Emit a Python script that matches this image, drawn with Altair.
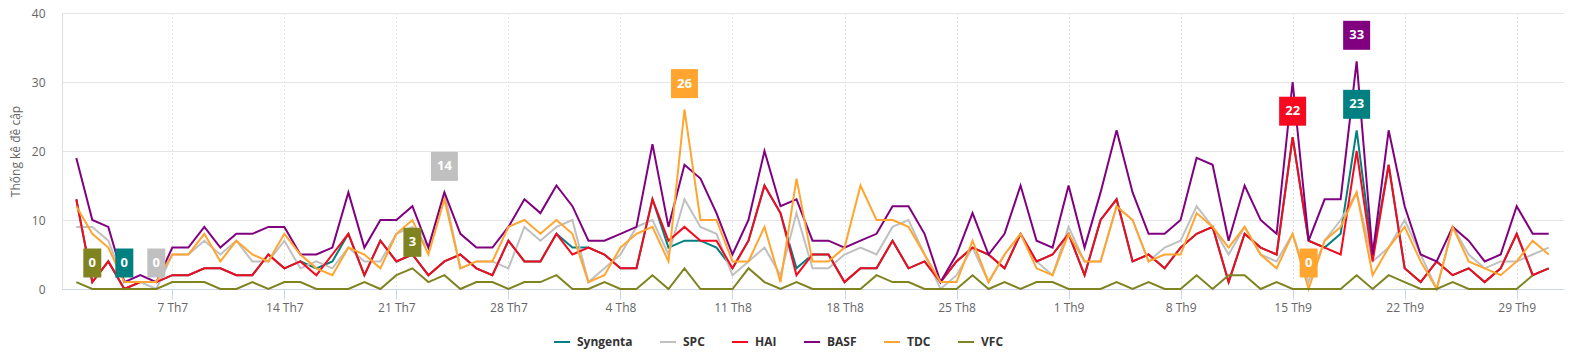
import altair as alt
import pandas as pd

# ---------------- data ----------------
start_date = "2025-07-01"
n_days = 93
series_names = ["Syngenta", "SPC", "HAI", "BASF", "TDC", "VFC"]
series_colors = ["#008080", "#c0c0c0", "#f50a1f", "#800080", "#ffa530", "#7f8420"]

hai = [13, 1, 4, 0, 1, 1, 2, 2, 3, 3, 2, 2, 5, 3, 4, 2, 5, 8, 2, 7, 4,
       5, 2, 4, 5, 3, 2, 7, 4, 4, 8, 5, 6, 5, 3, 3, 13, 7, 9, 7, 7, 3, 7, 15, 11,
       2, 5, 5, 1, 3, 3, 7, 3, 4, 1, 4, 6, 5, 3, 8, 4, 5, 8, 2, 10, 13, 4, 5,
       3, 6, 8, 9, 1, 8, 6, 5, 22, 7, 6, 5, 20, 4, 18, 3, 1, 4, 2, 3, 1, 3, 8, 2, 3]

syngenta = [13, 1, 4, 0, 1, 1, 2, 2, 3, 3, 2, 2, 5, 3, 4, 3, 4, 8, 2, 7, 4,
            5, 2, 4, 5, 3, 2, 7, 4, 4, 8, 6, 6, 5, 3, 3, 13, 6, 7, 7, 6, 3, 7, 15, 11,
            3, 5, 5, 1, 3, 3, 7, 3, 4, 1, 4, 6, 5, 3, 8, 4, 5, 8, 2, 10, 13, 4, 5,
            3, 6, 8, 9, 1, 8, 6, 5, 22, 7, 6, 8, 23, 5, 18, 3, 1, 4, 2, 3, 1, 3, 8, 2, 3]

basf = [19, 10, 9, 1, 2, 1, 6, 6, 9, 6, 8, 8, 9, 9, 5, 5, 6, 14, 6, 10, 10,
        12, 6, 14, 8, 6, 6, 9, 13, 11, 15, 12, 7, 7, 8, 9, 21, 9, 18, 16, 11, 5, 10, 20, 12,
        13, 7, 7, 6, 7, 8, 12, 12, 8, 1, 5, 11, 5, 8, 15, 7, 6, 15, 6, 14, 23, 14, 8,
        8, 10, 19, 18, 7, 15, 10, 8, 30, 7, 13, 13, 33, 5, 23, 12, 5, 4, 9, 7, 4, 5, 12, 8, 8]

tdc = [12, 8, 6, 1, 1, 1, 5, 5, 8, 4, 7, 5, 4, 8, 5, 3, 2, 6, 5, 3, 8,
       10, 5, 13, 3, 4, 4, 9, 10, 8, 10, 8, 1, 2, 6, 8, 9, 4, 26, 10, 10, 4, 4, 9, 1,
       16, 4, 4, 6, 15, 10, 10, 9, 5, 1, 1, 7, 1, 5, 8, 3, 2, 8, 4, 4, 12, 10, 4,
       5, 5, 11, 9, 6, 9, 5, 3, 8, 0, 7, 9, 14, 2, 6, 9, 4, 0, 9, 4, 3, 2, 4, 7, 5]

spc = [9, 9, 7, 1, 1, 0, 5, 5, 7, 5, 7, 4, 4, 7, 3, 4, 3, 6, 4, 4, 8,
       9, 6, 14, 3, 4, 4, 3, 9, 7, 9, 10, 1, 3, 5, 9, 10, 5, 13, 9, 8, 2, 4, 6, 2,
       11, 3, 3, 5, 6, 5, 9, 10, 5, 0, 2, 6, 1, 5, 8, 4, 2, 9, 4, 4, 12, 10, 4,
       6, 7, 12, 9, 5, 9, 5, 4, 8, 1, 7, 10, 14, 4, 6, 10, 5, 0, 9, 5, 3, 4, 4, 5, 6]

vfc = [1, 0, 0, 0, 0, 0, 1, 1, 1, 0, 0, 1, 0, 1, 1, 0, 0, 0, 1, 0, 2,
       3, 1, 2, 0, 1, 1, 0, 1, 1, 2, 0, 0, 1, 0, 0, 2, 0, 3, 0, 0, 0, 3, 1, 0,
       1, 0, 0, 0, 0, 2, 1, 1, 0, 0, 0, 2, 0, 1, 0, 1, 1, 0, 0, 0, 1, 0, 1,
       0, 0, 2, 0, 2, 2, 0, 1, 0, 0, 0, 0, 2, 0, 2, 1, 0, 0, 1, 0, 0, 0, 0, 2, None]

tick_dates = ["2025-07-07", "2025-07-14", "2025-07-21", "2025-07-28", "2025-08-04",
              "2025-08-11", "2025-08-18", "2025-08-25", "2025-09-01", "2025-09-08",
              "2025-09-15", "2025-09-22", "2025-09-29"]

# labelled extremes shown on the chart: (series, "max"/"min")
label_specs = [("VFC", "min"), ("Syngenta", "min"), ("SPC", "min"), ("SPC", "max"),
               ("VFC", "max"), ("TDC", "max"), ("HAI", "max"), ("BASF", "max"),
               ("Syngenta", "max"), ("TDC", "min")]

# ---------------- build tables ----------------
values = {"Syngenta": syngenta, "SPC": spc, "HAI": hai, "BASF": basf, "TDC": tdc, "VFC": vfc}
color_of = dict(zip(series_names, series_colors))
dates = pd.date_range(start_date, periods=n_days, freq="D", tz="UTC")
ts = [int(d.timestamp() * 1000) for d in dates]

rows = []
for s in series_names:
    for t, v in zip(ts, values[s]):
        if v is not None:
            rows.append({"t": t, "series": s, "value": v})
df = pd.DataFrame(rows)

lab_rows = []
for s, kind in label_specs:
    sub = df[df.series == s].reset_index(drop=True)
    idx = sub["value"].idxmax() if kind == "max" else sub["value"].idxmin()
    r = sub.loc[idx]
    lab_rows.append({"t": int(r.t), "value": int(r.value), "series": s,
                     "text": str(int(r.value)), "color": color_of[s]})
labels = pd.DataFrame(lab_rows)

DAY = 86400000
tick_ts = [int(pd.Timestamp(d, tz="UTC").timestamp() * 1000) for d in tick_dates]
x_domain = [tick_ts[0] - 6.894 * DAY, tick_ts[-1] + 2.956 * DAY]

FONT = "Open Sans"
x_enc = alt.X("t:T",
              scale=alt.Scale(type="utc", domain=x_domain, nice=False),
              axis=alt.Axis(values=tick_ts,
                            labelExpr="utcdate(datum.value) + ' Th' + (utcmonth(datum.value) + 1)",
                            title=None, grid=True, gridDash=[1, 3], gridColor="#c8c8c8",
                            domainColor="#ccd6eb", tickColor="#ccd6eb", tickSize=10,
                            labelPadding=3, labelFontSize=12, labelColor="#666666",
                            labelFont=FONT, labelFlush=False))
y_enc = alt.Y("value:Q",
              scale=alt.Scale(domain=[0, 40], nice=False, zero=True),
              axis=alt.Axis(values=[0, 10, 20, 30, 40], title="Thống kê đề cập",
                            grid=True, gridColor="#e6e6e6", domain=False, ticks=False,
                            labelPadding=17, labelFontSize=12, labelColor="#666666",
                            labelFont=FONT, titleFont=FONT, titleFontSize=12,
                            titleFontWeight="normal", titleColor="#666666",
                            titlePadding=9))
color_enc = alt.Color("series:N",
                      scale=alt.Scale(domain=series_names, range=series_colors),
                      legend=alt.Legend(title=None, orient="none", legendX=491, legendY=320,
                                        direction="horizontal", symbolType="stroke",
                                        symbolStrokeWidth=2, symbolSize=256,
                                        labelFont=FONT, labelFontWeight="bold",
                                        labelFontSize=12, labelColor="#333333",
                                        columnPadding=23, labelOffset=6))

layers = []
for s in series_names:
    layers.append(
        alt.Chart(df).transform_filter(alt.datum.series == s)
        .mark_line(strokeWidth=2, interpolate="linear")
        .encode(x=x_enc, y=y_enc, color=color_enc)
    )

for n_chars, w in [(1, 18), (2, 27)]:
    layers.append(
        alt.Chart(labels).transform_filter(f"length(datum.text) == {n_chars}")
        .mark_rect(width=w, height=29, yOffset=-26)
        .encode(x=x_enc, y=y_enc, fill=alt.Fill("color:N", scale=None))
    )

layers.append(
    alt.Chart(labels).mark_text(dy=-26, font=FONT, fontSize=13, fontWeight="bold",
                                color="white", align="center", baseline="middle")
    .encode(x=x_enc, y=y_enc, text="text:N")
)

chart = (alt.layer(*layers)
         .properties(width=1502, height=276,
                     padding={"left": 54, "top": 5, "right": 0, "bottom": 60},
                     autosize=alt.AutoSizeParams(type="none"))
         .configure_view(stroke=None)
         .configure(background="white"))

chart.save("out.html", embed_options={"renderer": "svg", "actions": False})
